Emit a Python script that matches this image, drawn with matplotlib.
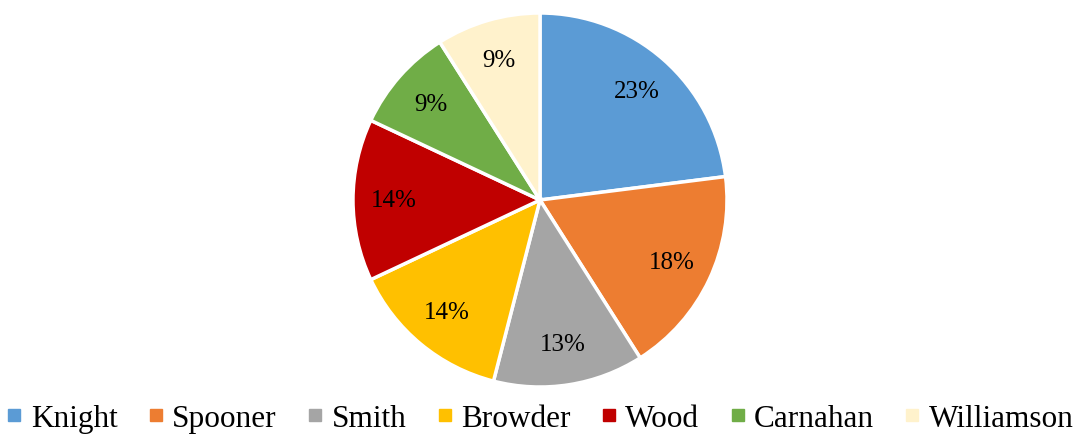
import matplotlib.pyplot as plt
from matplotlib.lines import Line2D

plt.rcParams['font.family'] = ['Liberation Serif', 'DejaVu Serif']

names = ['Knight', 'Spooner', 'Smith', 'Browder', 'Wood', 'Carnahan', 'Williamson']
shares = [23, 18, 13, 14, 14, 9, 9]
colors = ['#5B9BD5', '#ED7D31', '#A5A5A5', '#FFC000', '#C00000', '#70AD47', '#FFF2CC']

fig = plt.figure(figsize=(10.81, 4.35), dpi=100)
ax = fig.add_axes([(540 - 187) / 1081, (234 - 187) / 435, 374 / 1081, 374 / 435])

wedges, texts, autotexts = ax.pie(shares, colors=colors, startangle=90, counterclock=False,
                                  autopct='%1.0f%%', pctdistance=0.78,
                                  wedgeprops=dict(edgecolor='white', linewidth=2.5),
                                  textprops=dict(fontsize=18, color='black'))
ax.set_xlim(-1.0, 1.0)
ax.set_ylim(-1.0, 1.0)

handles = [Line2D([], [], marker='s', linestyle='none', markersize=8,
                  markerfacecolor=c, markeredgecolor=c) for c in colors]
fig.legend(handles, names, loc='lower center', ncol=7, frameon=False,
           fontsize=22.5, handlelength=0.45, handletextpad=0.3, columnspacing=1.0,
           borderpad=0.2, bbox_to_anchor=(0.5, -0.048))

fig.savefig('out.png', dpi=100)
